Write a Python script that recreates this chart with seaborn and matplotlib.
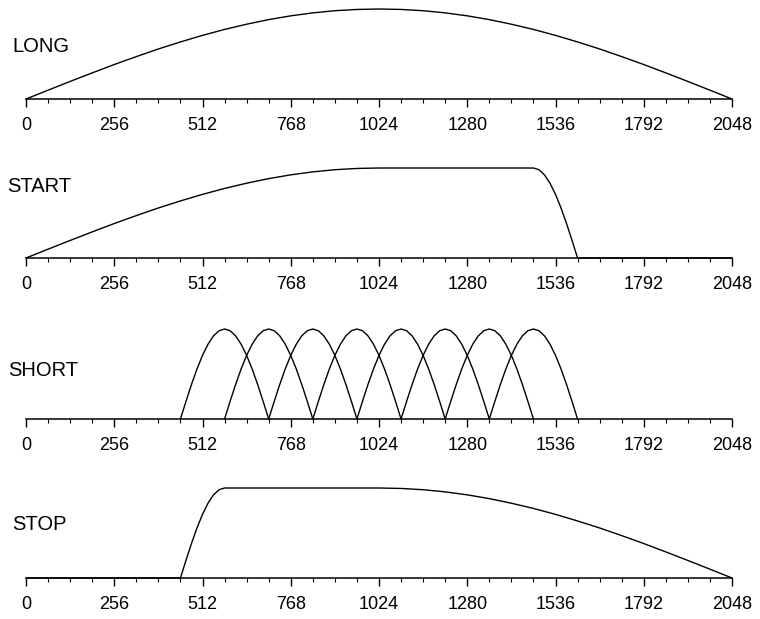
import matplotlib
matplotlib.use("Agg")
import matplotlib.pyplot as plt
import seaborn as sns
import pandas as pd

sns.set_style("white")
plt.rcParams["font.family"] = ["Liberation Sans", "DejaVu Sans"]

# Sample positions and window amplitudes
long_x = [0, 64, 128, 192, 256, 320, 384, 448, 512, 576, 640, 704, 768, 832, 896, 960,
          1024, 1088, 1152, 1216, 1280, 1344, 1408, 1472, 1536, 1600, 1664, 1728, 1792,
          1856, 1920, 1984, 2048]
long_y = [0.0, 0.098, 0.195, 0.290, 0.383, 0.471, 0.556, 0.634, 0.707, 0.773, 0.831,
          0.882, 0.924, 0.957, 0.981, 0.995, 1.0, 0.995, 0.981, 0.957, 0.924, 0.882,
          0.831, 0.773, 0.707, 0.634, 0.556, 0.471, 0.383, 0.290, 0.195, 0.098, 0.0]

start_x = [0, 64, 128, 192, 256, 320, 384, 448, 512, 576, 640, 704, 768, 832, 896, 960,
           1024, 1472, 1488, 1504, 1520, 1536, 1552, 1568, 1584, 1600, 2048]
start_y = [0.0, 0.098, 0.195, 0.290, 0.383, 0.471, 0.556, 0.634, 0.707, 0.773, 0.831,
           0.882, 0.924, 0.957, 0.981, 0.995, 1.0, 1.0, 0.981, 0.924, 0.831, 0.707,
           0.556, 0.383, 0.195, 0.0, 0.0]

short_offsets = [448, 576, 704, 832, 960, 1088, 1216, 1344]
short_dx = [0, 16, 32, 48, 64, 80, 96, 112, 128, 144, 160, 176, 192, 208, 224, 240, 256]
short_y = [0.0, 0.195, 0.383, 0.556, 0.707, 0.831, 0.924, 0.981, 1.0, 0.981, 0.924,
           0.831, 0.707, 0.556, 0.383, 0.195, 0.0]

stop_x = [0, 448, 464, 480, 496, 512, 528, 544, 560, 576, 1024, 1088, 1152, 1216, 1280,
          1344, 1408, 1472, 1536, 1600, 1664, 1728, 1792, 1856, 1920, 1984, 2048]
stop_y = [0.0, 0.0, 0.195, 0.383, 0.556, 0.707, 0.831, 0.924, 0.981, 1.0, 1.0, 0.995,
          0.981, 0.957, 0.924, 0.882, 0.831, 0.773, 0.707, 0.634, 0.556, 0.471, 0.383,
          0.290, 0.195, 0.098, 0.0]

panel_names = ["LONG", "START", "SHORT", "STOP"]
major_ticks = [0, 256, 512, 768, 1024, 1280, 1536, 1792, 2048]
minor_ticks = list(range(0, 2049, 64))

W, H = 760, 619
fig = plt.figure(figsize=(W / 100, H / 100), dpi=100)

baselines = [99, 258, 419, 578]      # pixel rows of each axis line
title_pos = [(12, 46), (7, 186), (8, 371), (12, 524)]
ax_left, ax_width = 26, 706
amp_px = 90

frames = [
    pd.DataFrame({"x": long_x, "y": long_y, "w": 0}),
    pd.DataFrame({"x": start_x, "y": start_y, "w": 0}),
    pd.concat([pd.DataFrame({"x": [o + d for d in short_dx], "y": short_y, "w": i})
               for i, o in enumerate(short_offsets)], ignore_index=True),
    pd.DataFrame({"x": stop_x, "y": stop_y, "w": 0}),
]

for name, base, (tx, ty), df in zip(panel_names, baselines, title_pos, frames):
    ax = fig.add_axes([ax_left / W, (H - base) / H, ax_width / W, amp_px / H])
    sns.lineplot(data=df, x="x", y="y", units="w", estimator=None, sort=False,
                 color="black", linewidth=1.0, ax=ax, legend=False)
    for ln in ax.lines:
        ln.set_clip_on(False)
    ax.set_xlim(0, 2048)
    ax.set_ylim(0, 1)
    ax.set_xticks(major_ticks)
    ax.set_xticks(minor_ticks, minor=True)
    ax.set_xticklabels([str(t) for t in major_ticks], fontsize=13)
    ax.tick_params(axis="x", which="major", length=6, width=1.0, direction="out",
                   pad=7, colors="black", bottom=True)
    ax.tick_params(axis="x", which="minor", length=3, width=0.8, direction="out",
                   colors="black", bottom=True)
    ax.set_yticks([])
    ax.set_xlabel("")
    ax.set_ylabel("")
    for s in ["top", "right", "left"]:
        ax.spines[s].set_visible(False)
    ax.spines["bottom"].set_color("black")
    ax.spines["bottom"].set_linewidth(1.1)
    ax.patch.set_alpha(0)
    fig.text(tx / W, 1 - ty / H, name, fontsize=14.5, ha="left", va="center",
             color="black")

fig.savefig("out.png", dpi=100)
